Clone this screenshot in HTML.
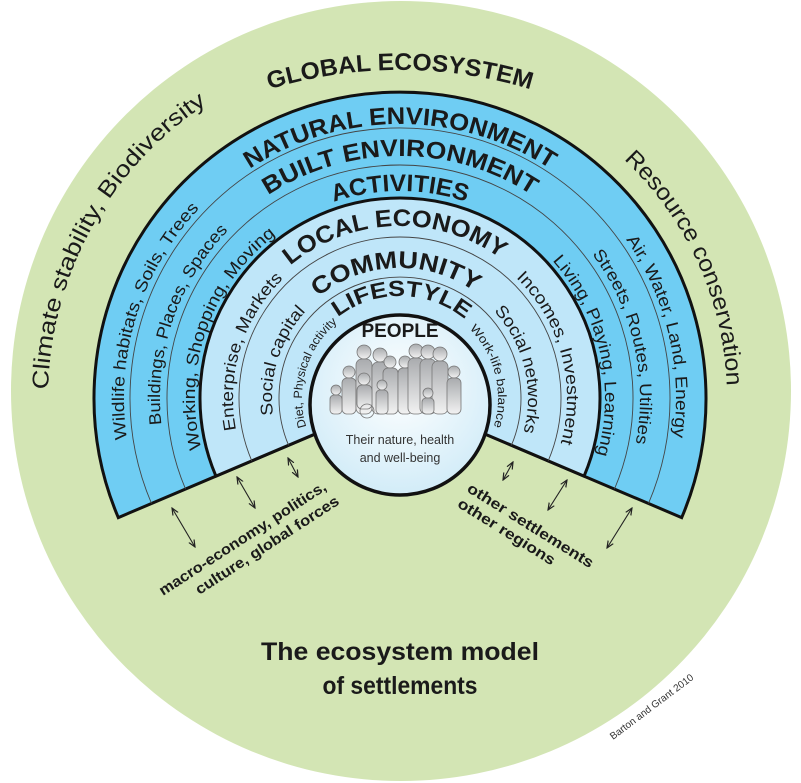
<!DOCTYPE html>
<html><head><meta charset="utf-8"><style>
html,body{margin:0;padding:0;background:#fff;}
svg{display:block;}
text{font-family:"Liberation Sans",sans-serif;fill:#1a1a1a;}
.t{font-weight:bold;font-size:24px;}
.s{font-size:17px;}
.xs{font-size:12px;}
</style></head><body>
<svg width="801" height="783" viewBox="0 0 801 783" xmlns="http://www.w3.org/2000/svg">
<defs>
<radialGradient id="pg" cx="50%" cy="40%" r="60%"><stop offset="0" stop-color="#ffffff"/><stop offset="1" stop-color="#d2ecf8"/></radialGradient>
<linearGradient id="fg" x1="0" y1="0" x2="0" y2="1"><stop offset="0" stop-color="#a9abae"/><stop offset="1" stop-color="#f2f2f2"/></linearGradient>
<marker id="ah" markerWidth="8" markerHeight="8" refX="7" refY="4" orient="auto-start-reverse" markerUnits="userSpaceOnUse"><path d="M0,1 L7,4 L0,7" fill="none" stroke="#222" stroke-width="1.2"/></marker>
<path id="p98" d="M315.13,447 A98 98 0 1 1 484.87,447"/>
<path id="p102" d="M311.67,449 A102 102 0 1 1 488.33,449"/>
<path id="p128" d="M289.15,462 A128 128 0 1 1 510.85,462"/>
<path id="p130" d="M287.42,463 A130 130 0 1 1 512.58,463"/>
<path id="p167" d="M255.38,481.5 A167 167 0 1 1 544.62,481.5"/>
<path id="p172" d="M251.05,484 A172 172 0 1 1 548.95,484"/>
<path id="p205" d="M222.47,500.5 A205 205 0 1 1 577.53,500.5"/>
<path id="p207" d="M220.74,501.5 A207 207 0 1 1 579.26,501.5"/>
<path id="p240" d="M192.16,518 A240 240 0 1 1 607.84,518"/>
<path id="p242" d="M190.43,519 A242 242 0 1 1 609.57,519"/>
<path id="p276" d="M160.98,536 A276 276 0 1 1 639.02,536"/>
<path id="p274" d="M162.71,535 A274 274 0 1 1 637.29,535"/>
<path id="p327" d="M116.82,561.5 A327 327 0 1 1 683.18,561.5"/>
<path id="p352" d="M95.17,574 A352 352 0 1 1 704.83,574"/>
<path id="pg1" d="M150,145.8 A450 450 0 0 1 650,145.8"/>
</defs>

<circle cx="401" cy="391" r="390" fill="#d3e5b4"/>

<path d="M118.3,517.6 A306 306 0 1 1 681.7,517.6 L400,398 Z" fill="#6fcdf3" stroke="#111" stroke-width="3" stroke-linejoin="miter"/>
<path d="M151.5,503.5 A270 270 0 1 1 648.5,503.5" fill="none" stroke="#444" stroke-width="0.9"/>
<path d="M185.5,489 A233 233 0 1 1 614.5,489" fill="none" stroke="#444" stroke-width="0.9"/>
<path d="M215.9,476.1 A200 200 0 1 1 584.1,476.1 L400,398 Z" fill="#bfe6f9" stroke="#111" stroke-width="3"/>
<path d="M251.8,460.9 A161 161 0 1 1 548.2,460.9" fill="none" stroke="#444" stroke-width="0.9"/>
<path d="M288.6,445.3 A121 121 0 1 1 511.4,445.3" fill="none" stroke="#444" stroke-width="0.9"/>
<circle cx="400" cy="405" r="90" fill="url(#pg)" stroke="#111" stroke-width="3.5"/>

<g fill="url(#fg)" stroke="#777" stroke-width="0.8">
<circle cx="349" cy="372" r="6"/><rect x="342" y="378" width="14" height="36" rx="5"/>
<circle cx="364" cy="352" r="7"/><rect x="356" y="359" width="16" height="55" rx="6"/>
<circle cx="380" cy="355" r="7"/><rect x="372" y="362" width="16" height="52" rx="6"/>
<circle cx="364" cy="379" r="6"/><rect x="357" y="385" width="15" height="24" rx="5"/>
<circle cx="367" cy="411" r="7" fill="none"/>
<circle cx="390" cy="362" r="6"/><rect x="383" y="368" width="15" height="46" rx="5"/>
<circle cx="382" cy="385" r="5"/><rect x="376" y="390" width="12" height="24" rx="4"/>
<circle cx="405" cy="362" r="6"/><rect x="398" y="368" width="14" height="46" rx="5"/>
<circle cx="416" cy="351" r="7"/><rect x="408" y="358" width="16" height="56" rx="6"/>
<circle cx="428" cy="352" r="7"/><rect x="420" y="359" width="16" height="55" rx="6"/>
<circle cx="440" cy="354" r="7"/><rect x="432" y="361" width="16" height="53" rx="6"/>
<circle cx="428" cy="393" r="5"/><rect x="422" y="398" width="12" height="16" rx="4"/>
<circle cx="454" cy="372" r="6"/><rect x="447" y="378" width="14" height="36" rx="5"/>
<circle cx="336" cy="390" r="5"/><rect x="330" y="395" width="12" height="19" rx="4"/>
</g>
<text x="400" y="337" text-anchor="middle" style="font-weight:bold;font-size:19px">PEOPLE</text>
<text x="400" y="444" text-anchor="middle" style="font-size:12.5px;fill:#333">Their nature, health</text>
<text x="400" y="462" text-anchor="middle" style="font-size:12.5px;fill:#333">and well-being</text>

<text class="t" text-anchor="middle" textLength="265" lengthAdjust="spacingAndGlyphs"><textPath href="#pg1" startOffset="50%">GLOBAL ECOSYSTEM</textPath></text>
<text class="t" text-anchor="middle" textLength="318" lengthAdjust="spacingAndGlyphs"><textPath href="#p274" startOffset="50%">NATURAL ENVIRONMENT</textPath></text>
<text class="t" text-anchor="middle" textLength="279" lengthAdjust="spacingAndGlyphs"><textPath href="#p242" startOffset="50%">BUILT ENVIRONMENT</textPath></text>
<text class="t" text-anchor="middle" textLength="135" lengthAdjust="spacingAndGlyphs"><textPath href="#p207" startOffset="50%">ACTIVITIES</textPath></text>
<text class="t" text-anchor="middle" textLength="226" lengthAdjust="spacingAndGlyphs"><textPath href="#p172" startOffset="49.2%">LOCAL ECONOMY</textPath></text>
<text class="t" text-anchor="middle" textLength="168" lengthAdjust="spacingAndGlyphs"><textPath href="#p130" startOffset="49.2%">COMMUNITY</textPath></text>
<text class="t" text-anchor="middle" style="font-size:22px" textLength="137" lengthAdjust="spacingAndGlyphs"><textPath href="#p102" startOffset="50.4%">LIFESTYLE</textPath></text>

<text class="s" text-anchor="middle" textLength="250" lengthAdjust="spacingAndGlyphs"><textPath href="#p276" startOffset="19.75%">Wildlife habitats, Soils, Trees</textPath></text>
<text class="s" text-anchor="middle" textLength="212" lengthAdjust="spacingAndGlyphs"><textPath href="#p240" startOffset="20.4%">Buildings, Places, Spaces</textPath></text>
<text class="s" text-anchor="middle" textLength="240" lengthAdjust="spacingAndGlyphs"><textPath href="#p205" startOffset="20.5%">Working, Shopping, Moving</textPath></text>
<text class="s" text-anchor="middle" textLength="165" lengthAdjust="spacingAndGlyphs"><textPath href="#p167" startOffset="19.7%">Enterprise, Markets</textPath></text>
<text class="s" text-anchor="middle" textLength="112" lengthAdjust="spacingAndGlyphs"><textPath href="#p128" startOffset="19.75%">Social capital</textPath></text>
<text class="xs" text-anchor="middle" textLength="115" lengthAdjust="spacingAndGlyphs"><textPath href="#p98" startOffset="19.4%">Diet, Physical activity</textPath></text>
<text class="s" text-anchor="middle" textLength="208" lengthAdjust="spacingAndGlyphs"><textPath href="#p276" startOffset="81.9%">Air, Water, Land, Energy</textPath></text>
<text class="s" text-anchor="middle" textLength="200" lengthAdjust="spacingAndGlyphs"><textPath href="#p240" startOffset="82.1%">Streets, Routes, Utilities</textPath></text>
<text class="s" text-anchor="middle" textLength="208" lengthAdjust="spacingAndGlyphs"><textPath href="#p205" startOffset="82.1%">Living, Playing, Learning</textPath></text>
<text class="s" text-anchor="middle" textLength="180" lengthAdjust="spacingAndGlyphs"><textPath href="#p167" startOffset="81.2%">Incomes, Investment</textPath></text>
<text class="s" text-anchor="middle" textLength="130" lengthAdjust="spacingAndGlyphs"><textPath href="#p128" startOffset="81.8%">Social networks</textPath></text>
<text class="xs" text-anchor="middle" textLength="106" lengthAdjust="spacingAndGlyphs"><textPath href="#p98" startOffset="81.7%">Work-life balance</textPath></text>

<text style="font-size:23px" text-anchor="middle" textLength="340" lengthAdjust="spacingAndGlyphs"><textPath href="#p352" startOffset="24.6%">Climate stability, Biodiversity</textPath></text>
<text style="font-size:23px" text-anchor="middle" textLength="255" lengthAdjust="spacingAndGlyphs"><textPath href="#p327" startOffset="77.3%">Resource conservation</textPath></text>

<g stroke="#222" stroke-width="1.1" marker-start="url(#ah)" marker-end="url(#ah)">
<line x1="172" y1="508" x2="195" y2="547"/>
<line x1="237" y1="477" x2="255" y2="508"/>
<line x1="288" y1="458" x2="298" y2="477"/>
<line x1="513" y1="462" x2="503" y2="480"/>
<line x1="567" y1="480" x2="548" y2="510"/>
<line x1="632" y1="508" x2="607" y2="548"/>
</g>

<g transform="translate(163,596) rotate(-33)" style="font-weight:bold;font-size:15px">
<text x="0" y="0" textLength="196" lengthAdjust="spacingAndGlyphs">macro-economy, politics,</text>
<text x="31" y="19" textLength="168" lengthAdjust="spacingAndGlyphs">culture, global forces</text>
</g>
<g transform="translate(466,491) rotate(32)" style="font-weight:bold;font-size:15px">
<text x="0" y="0" textLength="146" lengthAdjust="spacingAndGlyphs">other settlements</text>
<text x="0" y="18" textLength="112" lengthAdjust="spacingAndGlyphs">other regions</text>
</g>

<text x="400" y="660" text-anchor="middle" style="font-weight:bold;font-size:25px" textLength="278" lengthAdjust="spacingAndGlyphs">The ecosystem model</text>
<text x="400" y="694" text-anchor="middle" style="font-weight:bold;font-size:25px" textLength="155" lengthAdjust="spacingAndGlyphs">of settlements</text>
<text transform="translate(613,740) rotate(-37)" style="font-size:10px;fill:#333">Barton and Grant 2010</text>
</svg>
</body></html>
